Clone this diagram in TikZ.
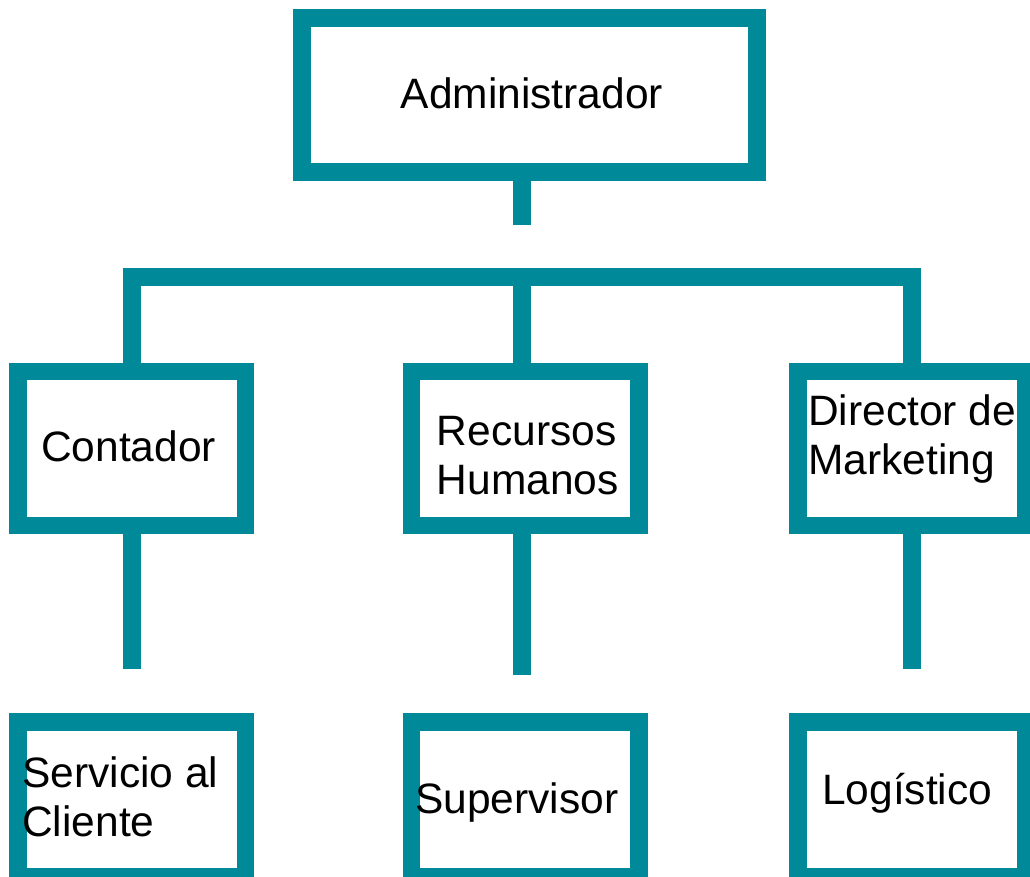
\documentclass[tikz,border=0pt]{standalone}
\usepackage{fontspec}
\setmainfont{Liberation Sans}
\definecolor{tealline}{HTML}{008A99}
\begin{document}
\begin{tikzpicture}[x=1pt,y=-1pt,
  box/.style={draw=tealline, line width=17.5pt, rectangle, inner sep=0pt, fill=white},
  conn/.style={draw=tealline, line width=17.5pt, line join=miter},
  lbl/.style={inner sep=0pt, anchor=base west, align=left, font=\fontsize{42.5pt}{49pt}\selectfont}]
\useasboundingbox (0,0) rectangle (1030,877);
\clip (0,0) rectangle (1030,877);
% boxes
\node[box, minimum width=455pt, minimum height=154pt] (adm) at (529.5,95) {};
\node[box, minimum width=227.5pt, minimum height=154pt] (con) at (131.75,448.5) {};
\node[box, minimum width=227.5pt, minimum height=154pt] (rh) at (525.25,448.5) {};
\node[box, minimum width=228pt, minimum height=154pt] (dir) at (912,448.5) {};
\node[box, minimum width=227.5pt, minimum height=155pt] (sac) at (131.75,799.5) {};
\node[box, minimum width=227.5pt, minimum height=155pt] (sup) at (525.25,799.5) {};
\node[box, minimum width=228pt, minimum height=155pt] (log) at (912,799.5) {};
% connector points
\coordinate (e0) at (522,225);
\coordinate (bar) at (522,277);
\coordinate (e1) at (131.75,669);
\coordinate (e2) at (522,675);
\coordinate (e3) at (912,669);
% connectors
\draw[conn] (e0 |- adm.south) -- (e0);
\draw[conn] (con.north) |- (bar) -| (dir.north);
\draw[conn] (bar) -- (bar |- rh.north);
\draw[conn] (con.south) -- (e1);
\draw[conn] (e2 |- rh.south) -- (e2);
\draw[conn] (dir.south) -- (e3);
% labels (base anchor = baseline of last line)
\node[lbl] (tadm) at (400.5,109) {Administrador};
\node[lbl] (tcon) at (41,461) {Contador};
\node[lbl] (trh) at (436.6,494) {Recursos\\Humanos};
\node[lbl] (tdir) at (808,474) {Director de\\Marketing};
\node[lbl] (tsac) at (22,836) {Servicio al\\Cliente};
\node[lbl] (tsup) at (415,813) {Supervisor};
\node[lbl] (tlog) at (822,804) {Logístico};
\end{tikzpicture}
\end{document}
